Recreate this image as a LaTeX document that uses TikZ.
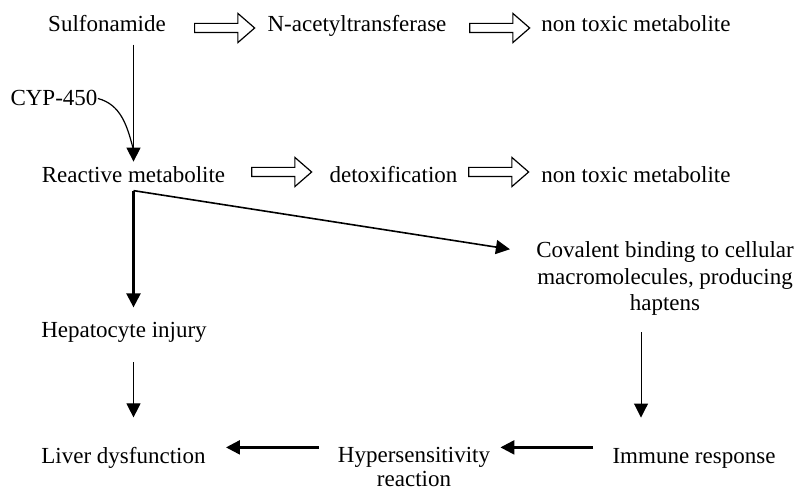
\documentclass[tikz,border=0pt]{standalone}
\usepackage{fontspec}
\setmainfont{Liberation Serif}
\usetikzlibrary{arrows.meta,shapes.arrows}
\begin{document}
\begin{tikzpicture}[x=0.5pt, y=-0.5pt,
	every node/.style = {font=\fontsize{11.5}{13}\selectfont, anchor=base, inner sep=0pt, align=center},
	hollow/.style = {draw, single arrow, single arrow head extend=5pt, single arrow tip angle=82,
		inner xsep=0pt, inner ysep=2pt, minimum height=30pt, anchor=center, line width=0.6pt},
	flow/.style = {-{Triangle[length=7pt,width=7pt]}, line width=0.5pt},
	heavy/.style = {flow, line width=1.2pt}]
	\useasboundingbox (0,0) rectangle (796,491);

	% metabolic pathway (multi-line nodes sit on their last baseline)
	\node (sulfa) at (107,32) {Sulfonamide};
	\node (nat) at (357,32) {N-acetyltransferase};
	\node (nontoxa) at (636,32) {non toxic metabolite};
	\node (cyp) at (54,106) {CYP-450};
	\node (reactive) at (133.5,183) {Reactive metabolite};
	\node (detox) at (393.5,183) {detoxification};
	\node (nontoxb) at (636,183) {non toxic metabolite};
	\node (cov) at (665,310) {Covalent binding to cellular\\macromolecules, producing\\haptens};
	\node (hep) at (124,337) {Hepatocyte injury};
	\node (liver) at (123.5,463) {Liver dysfunction};
	\node[font=\fontsize{11.5}{11.6}\selectfont] (hyper) at (414,486) {Hypersensitivity\\reaction};
	\node (immune) at (694,463) {Immune response};

	% open arrows
	\node[hollow] (ha) at (222,28) {};
	\node[hollow] (hb) at (497,28) {};
	\node[hollow] (hc) at (279,172) {};
	\node[hollow] (hd) at (496,172) {};

	% connectors
	\coordinate (join) at (133,148);
	\coordinate (fork) at ([yshift=-3.5pt]reactive.south);
	\coordinate (lowrow) at ([yshift=5pt]liver.east);
	\draw[flow, shorten <=6pt, shorten >=2.5pt] (reactive.north |- sulfa.south) -- (reactive.north);
	\draw[line width=0.6pt] (cyp.east) to[out=-15,in=105] (join);
	\draw[heavy, shorten >=7pt] (fork) -- (fork |- hep.north);
	\draw[flow, line width=0.8pt] (fork) -- ([xshift=-13pt,yshift=-3.8pt]cov.north west);
	\draw[flow, shorten <=10pt, shorten >=14.5pt] (fork |- hep.south) -- (fork |- liver.north);
	\draw[flow, shorten <=8.5pt, shorten >=15pt] ([xshift=-12pt]cov.south) -- ([xshift=-12pt]cov.south |- immune.north);
	\draw[heavy, shorten <=9.5pt, shorten >=5pt] (immune.west |- lowrow) -- (hyper.east |- lowrow);
	\draw[heavy, shorten <=9.5pt, shorten >=10pt] (hyper.west |- lowrow) -- (lowrow);
\end{tikzpicture}
\end{document}
